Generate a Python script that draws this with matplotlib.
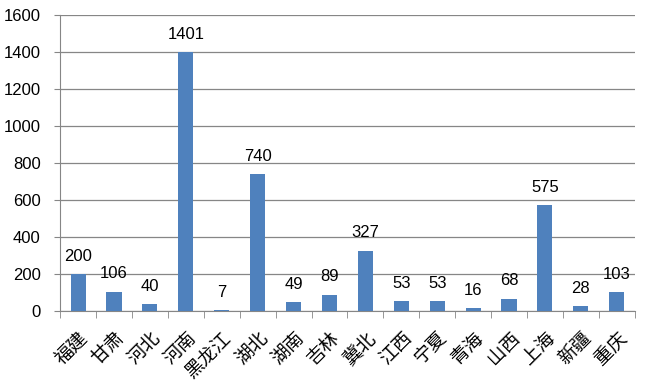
import matplotlib
matplotlib.use("Agg")
import matplotlib.pyplot as plt
import numpy as np

provinces = ['福建', '甘肃', '河北', '河南', '黑龙江', '湖北', '湖南', '吉林', '冀北',
             '江西', '宁夏', '青海', '山西', '上海', '新疆', '重庆']
values = [200, 106, 40, 1401, 7, 740, 49, 89, 327, 53, 53, 16, 68, 575, 28, 103]
yticks = [0, 200, 400, 600, 800, 1000, 1200, 1400, 1600]

plt.rcParams['font.family'] = ['Liberation Sans', 'Noto Sans CJK SC', 'DejaVu Sans']

fig = plt.figure(figsize=(6.47, 3.86), dpi=100)
ax = fig.add_axes([0.093, 0.194, 0.888, 0.767])

x = np.arange(len(values))
bars = ax.bar(x, values, width=0.42, color='#4F81BD', zorder=3)

for xi, v in zip(x, values):
    ax.text(xi, v + 55, str(v), ha='center', va='bottom', fontsize=12, color='#000000', zorder=4)

ax.set_xlim(-0.5, len(values) - 0.5)
ax.set_ylim(0, 1600)
ax.set_yticks(yticks)
ax.set_yticklabels([str(t) for t in yticks], fontsize=12)
ax.yaxis.grid(True, color='#868686', linewidth=0.9, zorder=0)

ax.set_xticks(x)
ax.set_xticklabels(provinces, rotation=45, ha='right', va='top', fontsize=13.5,
                   family=['Noto Sans CJK SC', 'DejaVu Sans'], rotation_mode='anchor')
ax.tick_params(axis='x', which='major', length=0, pad=12)
ax.set_xticks(np.arange(-0.5, len(values), 1), minor=True)
ax.tick_params(axis='x', which='minor', length=5, color='#868686', direction='out')
ax.tick_params(axis='y', length=4, color='#868686', direction='out', pad=10)

for side in ['top', 'right']:
    ax.spines[side].set_visible(False)
for side in ['left', 'bottom']:
    ax.spines[side].set_color('#868686')

fig.savefig('out.png', dpi=100)
